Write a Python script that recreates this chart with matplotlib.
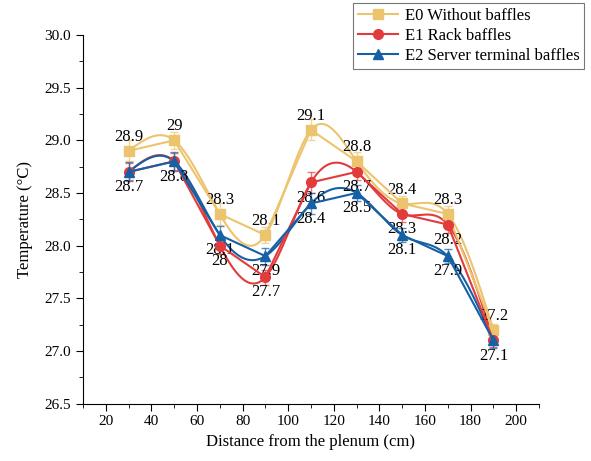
import numpy as np
import matplotlib
matplotlib.use("Agg")
import matplotlib.pyplot as plt
from matplotlib.ticker import MultipleLocator

plt.rcParams['font.family'] = ['Liberation Serif', 'DejaVu Serif']

# Data
distance = [30, 50, 70, 90, 110, 130, 150, 170, 190]
e0 = [28.9, 29.0, 28.3, 28.1, 29.1, 28.8, 28.4, 28.3, 27.2]
e1 = [28.7, 28.8, 28.0, 27.7, 28.6, 28.7, 28.3, 28.2, 27.1]
e2 = [28.7, 28.8, 28.1, 27.9, 28.4, 28.5, 28.1, 27.9, 27.1]
e0_err = [0.10, 0.08, 0.10, 0.08, 0.10, 0.09, 0.07, 0.08, 0.06]
e1_err = [0.08, 0.08, 0.08, 0.07, 0.10, 0.08, 0.08, 0.08, 0.06]
e2_err = [0.09, 0.09, 0.09, 0.08, 0.10, 0.08, 0.07, 0.07, 0.07]
names = ["E0 Without baffles", "E1 Rack baffles", "E2 Server terminal baffles"]
colors = ["#EDC46E", "#E23B3B", "#1660A6"]
markers = ["s", "o", "^"]


# natural cubic spline, only used to draw the smooth connecting line
def spline(x, y, n=400):
    x = np.asarray(x, float)
    y = np.asarray(y, float)
    h = np.diff(x)
    m = len(x)
    A = np.zeros((m, m))
    b = np.zeros(m)
    A[0, 0] = A[-1, -1] = 1
    for i in range(1, m - 1):
        A[i, i - 1] = h[i - 1]
        A[i, i] = 2 * (h[i - 1] + h[i])
        A[i, i + 1] = h[i]
        b[i] = 6 * ((y[i + 1] - y[i]) / h[i] - (y[i] - y[i - 1]) / h[i - 1])
    M = np.linalg.solve(A, b)
    xs = np.linspace(x[0], x[-1], n)
    k = np.clip(np.searchsorted(x, xs) - 1, 0, m - 2)
    t = xs - x[k]
    hk = h[k]
    a = (M[k + 1] - M[k]) / (6 * hk)
    bb = M[k] / 2
    c = (y[k + 1] - y[k]) / hk - hk * (2 * M[k] + M[k + 1]) / 6
    ys = y[k] + c * t + bb * t ** 2 + a * t ** 3
    return xs, ys


fig = plt.figure(figsize=(5.91, 4.61), dpi=100)
ax = fig.add_axes([0.1404, 0.1247, 0.7716, 0.7993])

series = [e0, e1, e2]
errs = [e0_err, e1_err, e2_err]
for vals, err, col, mk, name in zip(series, errs, colors, markers, names):
    xs, ys = spline(distance, vals)
    ax.plot(xs, ys, color=col, lw=1.5, zorder=2)
    ax.errorbar(distance, vals, yerr=err, fmt="none", ecolor=col, alpha=0.7,
                elinewidth=1, capsize=3, capthick=1, zorder=3)
    ax.plot(distance, vals, marker=mk, ls="-", color=col, ms=7, lw=1.5,
            label=name, zorder=4, markevery=[])
    ax.plot(distance, vals, marker=mk, ls="none", color=col, ms=7, zorder=4)

for xv, yv in zip(distance, e0):
    ax.annotate(f"{yv:g}", (xv, yv), xytext=(0, 10), textcoords="offset points",
                ha="center", va="center", fontsize=12)
# E1 and E2 labels sit below the points; equal values are written once
for i, xv in enumerate(distance):
    for vals in ((e1, e2) if e1[i] != e2[i] else (e2,)):
        ax.annotate(f"{vals[i]:g}", (xv, vals[i]), xytext=(0, -11),
                    textcoords="offset points", ha="center", va="center",
                    fontsize=12)

ax.set_xlim(10, 210)
ax.set_ylim(26.5, 30.0)
ax.xaxis.set_major_locator(MultipleLocator(20))
ax.xaxis.set_minor_locator(MultipleLocator(10))
ax.yaxis.set_major_locator(MultipleLocator(0.5))
ax.yaxis.set_minor_locator(MultipleLocator(0.25))
ax.set_xticks(np.arange(20, 201, 20))
ax.yaxis.set_major_formatter(matplotlib.ticker.FormatStrFormatter("%.1f"))
ax.tick_params(which="major", direction="out", length=5, labelsize=11)
ax.tick_params(which="minor", direction="out", length=3)
ax.spines["top"].set_visible(False)
ax.spines["right"].set_visible(False)
ax.set_xlabel("Distance from the plenum (cm)", fontsize=12)
ax.set_ylabel("Temperature (\u00b0C)", fontsize=12, labelpad=8)

leg = ax.legend(loc="upper left", bbox_to_anchor=(0.592, 1.087), fontsize=12,
                frameon=True, fancybox=False, edgecolor="#555555",
                handlelength=2.4, borderpad=0.3, labelspacing=0.25,
                handletextpad=0.4, borderaxespad=0)
leg.get_frame().set_linewidth(0.8)

fig.savefig("out.png", dpi=100)
